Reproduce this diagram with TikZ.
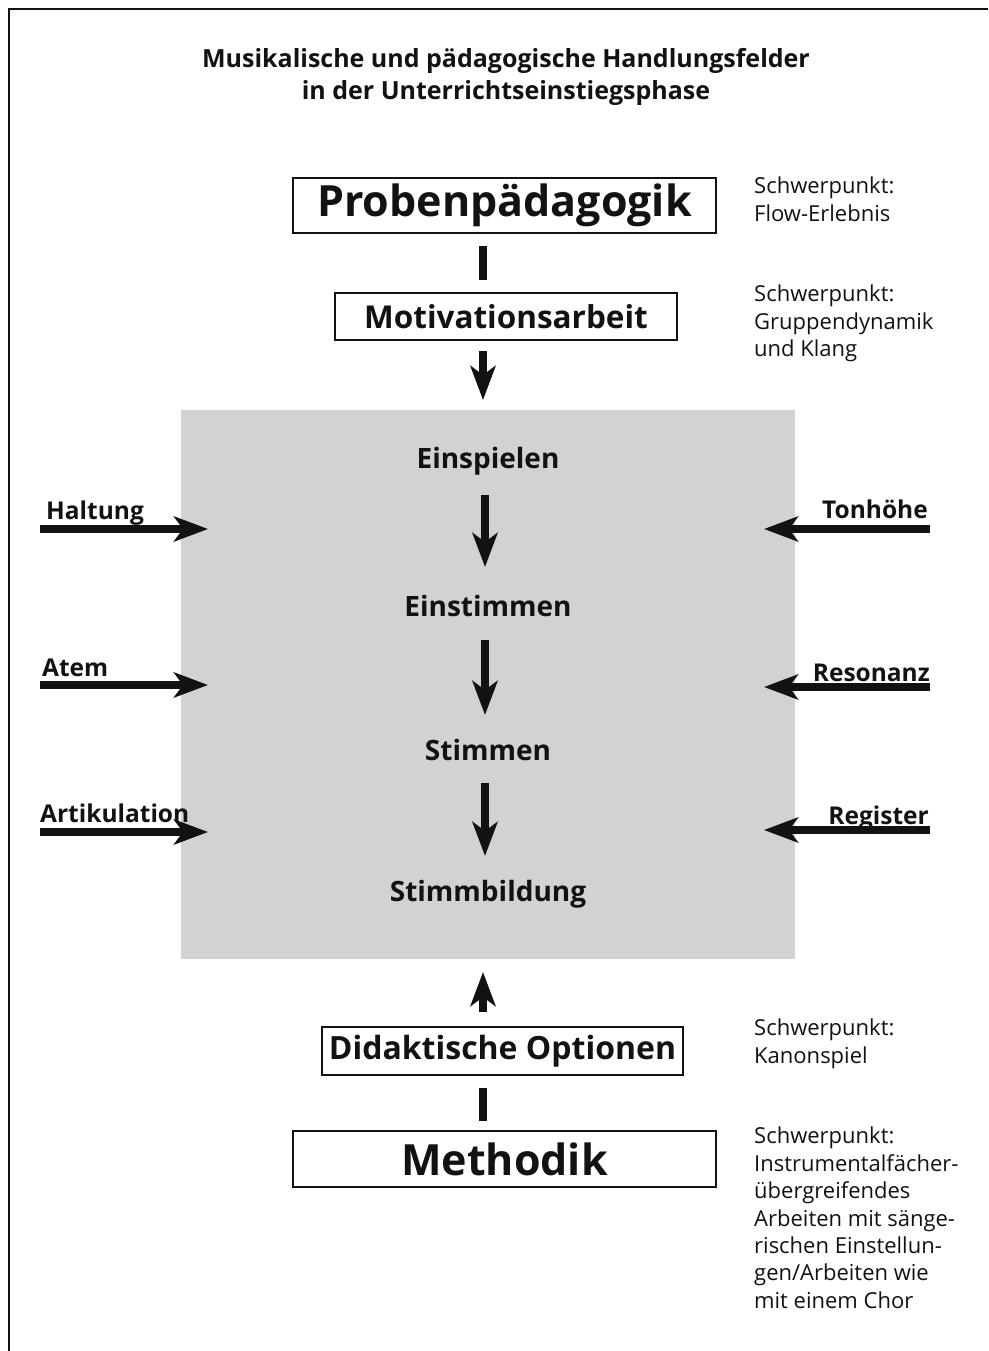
\documentclass[tikz,border=0pt]{standalone}
\usepackage{fontspec}
\setmainfont{Open Sans}
\usetikzlibrary{arrows.meta,calc}
\definecolor{panel}{RGB}{209,210,212}
\definecolor{ink}{RGB}{20,18,16}
\tikzset{
  x=1pt,y=-1pt,
  every node/.style={text=ink},
  titlebox/.style={draw=ink,line width=1.3pt,inner sep=0pt,font=\bfseries},
  bar/.style={draw=ink,line width=8pt},
  bigarrow/.style={draw=ink,line width=8pt,-{Stealth[length=34pt,width=25pt,inset=9pt]}},
  sidelabel/.style={font=\fontsize{24.5}{28}\selectfont\bfseries,inner sep=0pt},
  steplabel/.style={font=\fontsize{28}{32}\selectfont\bfseries,inner sep=0pt},
  note/.style={font=\fontsize{22}{27.4}\selectfont,align=left,anchor=north west,inner sep=0pt},
}
\begin{document}
\begin{tikzpicture}
\useasboundingbox (0,0) rectangle (988,1351);
% frame
\draw[line width=1.3pt,ink] (9,1351) -- (9,9) -- (988,9);
% title
\node[font=\fontsize{25}{32}\selectfont\bfseries,align=center] (title) at (506,77)
  {Musikalische und pädagogische Handlungsfelder\\in der Unterrichtseinstiegsphase};
% gray panel
\fill[panel] (181,410) rectangle (795,959);
\coordinate (paneltop) at (483,410);
\coordinate (panelbot) at (483,959);
\coordinate (xc) at (483,0);
% boxes
\node[titlebox,minimum width=423pt,minimum height=55pt,font=\fontsize{43}{46}\selectfont\bfseries] (probe) at (504.5,205.5) {Probenpädagogik};
\node[titlebox,minimum width=342pt,minimum height=47pt,font=\fontsize{31.5}{34}\selectfont\bfseries] (motiv) at (506,316.5) {Motivationsarbeit};
\node[titlebox,minimum width=361pt,minimum height=48pt,font=\fontsize{32}{34}\selectfont\bfseries] (didak) at (502.5,1051) {Didaktische Optionen};
\node[titlebox,minimum width=423pt,minimum height=56pt,font=\fontsize{43}{46}\selectfont\bfseries] (meth) at (504.5,1159) {Methodik};
% connectors
\draw[bar,shorten <=12pt,shorten >=12pt] (probe.south -| xc) -- (motiv.north -| xc);
\draw[bigarrow,shorten <=10pt,shorten >=10pt] (motiv.south -| xc) -- (paneltop);
\draw[bigarrow,shorten <=14pt,shorten >=13pt] (didak.north -| xc) -- (panelbot);
\draw[bar,shorten <=12pt,shorten >=9pt] (didak.south -| xc) -- (meth.north -| xc);
% steps
\node[steplabel] (s1) at (488,461) {Einspielen};
\node[steplabel] (s2) at (488,606) {Einstimmen};
\node[steplabel] (s3) at (488,750) {Stimmen};
\node[steplabel] (s4) at (488,894) {Stimmbildung};
\coordinate (ax) at (485,0);
\draw[bigarrow] ($(s1 -| ax)+(0,34)$) -- ($(s2 -| ax)+(0,-39)$);
\draw[bigarrow] ($(s2 -| ax)+(0,34)$) -- ($(s3 -| ax)+(0,-35)$);
\draw[bigarrow] ($(s3 -| ax)+(0,33)$) -- ($(s4 -| ax)+(0,-38)$);
% left inputs
\node[sidelabel,anchor=base west] (halt) at (46,519) {Haltung};
\node[sidelabel,anchor=base west] (atem) at (42,676) {Atem};
\node[sidelabel,anchor=base west] (artik) at (40,822) {Artikulation};
\coordinate (hl0) at (40,529); \coordinate (hl1) at (208,529);
\coordinate (at0) at (40,685); \coordinate (at1) at (208,685);
\coordinate (ar0) at (40,832); \coordinate (ar1) at (208,832);
\draw[bigarrow] (hl0) -- (hl1);
\draw[bigarrow] (at0) -- (at1);
\draw[bigarrow] (ar0) -- (ar1);
% right inputs
\node[sidelabel,anchor=base east] (ton) at (928,518) {Tonhöhe};
\node[sidelabel,anchor=base east] (reso) at (930,681) {Resonanz};
\node[sidelabel,anchor=base east] (regi) at (929,824) {Register};
\coordinate (to0) at (930,529); \coordinate (to1) at (764,529);
\coordinate (re0) at (930,687); \coordinate (re1) at (764,687);
\coordinate (rg0) at (930,830); \coordinate (rg1) at (764,830);
\draw[bigarrow] (to0) -- (to1);
\draw[bigarrow] (re0) -- (re1);
\draw[bigarrow] (rg0) -- (rg1);
% notes
\node[note] (n1) at (754,177) {Schwerpunkt:\\Flow-Erlebnis};
\node[note] (n2) at (754,285) {Schwerpunkt:\\Gruppendynamik\\und Klang};
\node[note] (n3) at (754,1019) {Schwerpunkt:\\Kanonspiel};
\node[note] (n4) at (754,1127) {Schwerpunkt:\\Instrumentalfächer-\\übergreifendes\\Arbeiten mit sänge-\\rischen Einstellun-\\gen/Arbeiten wie\\mit einem Chor};
\end{tikzpicture}
\end{document}
